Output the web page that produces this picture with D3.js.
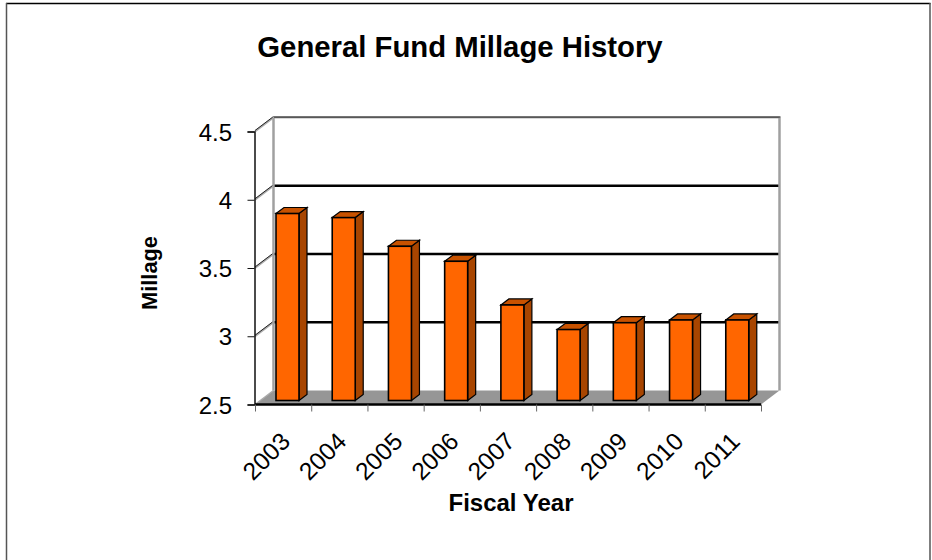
<!DOCTYPE html>
<html><head><meta charset="utf-8">
<script src="https://cdnjs.cloudflare.com/ajax/libs/d3/7.8.5/d3.min.js"></script>
<style>html,body{margin:0;padding:0;background:#fff}svg{display:block}text{font-family:"Liberation Sans",Arial,sans-serif;fill:#000}</style>
</head><body><svg id="c" width="932" height="560"></svg>
<script>
const years=["2003","2004","2005","2006","2007","2008","2009","2010","2011"];
const millage=[3.87,3.84,3.63,3.52,3.2,3.02,3.07,3.09,3.09];
const yTicks=[2.5,3,3.5,4,4.5];
const yLabels=["2.5","3","3.5","4","4.5"];
const svg=d3.select("#c");
svg.append("line").attr("x1",6).attr("x2",930.5).attr("y1",3.5).attr("y2",3.5).attr("stroke","#000").attr("stroke-width",1.5);
svg.append("line").attr("x1",6.5).attr("x2",6.5).attr("y1",3).attr("y2",560).attr("stroke","#555").attr("stroke-width",1.5);
svg.append("line").attr("x1",930).attr("x2",930).attr("y1",3).attr("y2",560).attr("stroke","#555").attr("stroke-width",1.5);
const dx=18.5,dy=-14;
const x=d3.scaleBand().domain(years).range([255,761]);
const y=d3.scaleLinear().domain([2.5,4.5]).range([404.5,131.5]);
const yBar=d3.scaleLinear().domain([2.5,4.5]).range([400.5,127.5]);
const g=svg.append("g");
const L=x.range()[0],R=x.range()[1];
// floor
g.append("path").attr("d",d3.line()([[L,y(2.5)],[L+dx,y(2.5)+dy],[R+dx,y(2.5)+dy],[R,y(2.5)]])+"Z").attr("fill","#969696");
// gridlines on the back wall and side wall
yTicks.forEach(t=>{
  const yy=y(t);
  if(t>2.5){
    g.append("line").attr("x1",L+dx).attr("x2",R+dx).attr("y1",yy+dy).attr("y2",yy+dy).attr("stroke",t==4.5?"#666":"#000").attr("stroke-width",t==4.5?1.5:2.5);
    g.append("line").attr("x1",L).attr("x2",L+dx).attr("y1",yy).attr("y2",yy+dy).attr("stroke","#aaa").attr("stroke-width",2);
    g.append("line").attr("x1",L).attr("x2",L+dx).attr("y1",yy-1).attr("y2",yy+dy-1).attr("stroke","#222").attr("stroke-width",1);
  }
});
// wall edges
[L+dx,R+dx].forEach(v=>g.append("line").attr("x1",v).attr("x2",v).attr("y1",y(4.5)+dy).attr("y2",y(2.5)+dy).attr("stroke","#a0a0a0").attr("stroke-width",2.5));
g.append("line").attr("x1",L+dx+.5).attr("x2",R+dx+1).attr("y1",y(4.5)+dy-.5).attr("y2",y(4.5)+dy-.5).attr("stroke","#555").attr("stroke-width",1.5);
g.append("line").attr("x1",L).attr("x2",L+dx).attr("y1",y(2.5)).attr("y2",y(2.5)+dy).attr("stroke","#aaa").attr("stroke-width",1.5);
// bars
const bw=23,offset=21,bdx=8,bdy=-6;
const bars=g.selectAll("g.bar").data(years.map((d,i)=>({d,v:millage[i]}))).join("g").attr("class","bar");
const bx=d=>x(d.d)+offset;
bars.append("path").attr("d",d=>{const a=bx(d),t=yBar(d.v),b=yBar(2.5);return `M${a+bw},${t}L${a+bw+bdx},${t+bdy}L${a+bw+bdx},${b+bdy}L${a+bw},${b}Z`}).attr("fill","#a84500").attr("stroke","#000").attr("stroke-width",1.2);
bars.append("path").attr("d",d=>{const a=bx(d),t=yBar(d.v);return `M${a},${t}L${a+bdx},${t+bdy}L${a+bw+bdx},${t+bdy}L${a+bw},${t}Z`}).attr("fill","#c85200").attr("stroke","#000").attr("stroke-width",1.2);
bars.append("rect").attr("x",bx).attr("y",d=>yBar(d.v)).attr("width",bw).attr("height",d=>yBar(2.5)-yBar(d.v)).attr("fill","#ff6600").attr("stroke","#000").attr("stroke-width",1.6);
// front axes
const yAxis=d3.axisLeft(y).tickValues(yTicks).tickSize(7).tickFormat((d,i)=>yLabels[i]);
const ya=svg.append("g").attr("transform",`translate(${L-.5},0)`).call(yAxis);
ya.select(".domain").attr("stroke","#111").attr("stroke-width",1.5);
ya.selectAll("line").attr("stroke","#111").attr("stroke-width",1);
ya.selectAll("text").attr("font-size",24).attr("x",-22.5).attr("dy","0.36em");
const xTickScale=d3.scalePoint().domain(years.concat("end")).range([L,R]);
const xa=svg.append("g").attr("transform",`translate(0,${y(2.5)})`).call(d3.axisBottom(xTickScale).tickSize(7).tickFormat(""));
xa.select(".domain").attr("stroke","#000").attr("stroke-width",2.5).attr("d",`M${L},0H${R}`);
xa.selectAll("line").attr("stroke","#666").attr("stroke-width",1);
svg.append("g").selectAll("text").data(years).join("text")
 .attr("transform",d=>`translate(${x(d)+x.bandwidth()/2-4},${y(2.5)+26}) rotate(-45)`)
 .attr("text-anchor","end").attr("dy","0.72em").attr("font-size",24.5).text(d=>d);
svg.append("text").attr("x",460).attr("y",57).attr("text-anchor","middle").attr("font-size",29.3).attr("font-weight","bold").text("General Fund Millage History");
svg.append("text").attr("x",511).attr("y",511).attr("text-anchor","middle").attr("font-size",24).attr("font-weight","bold").text("Fiscal Year");
svg.append("text").attr("transform","translate(157,273) rotate(-90)").attr("text-anchor","middle").attr("font-size",21.8).attr("font-weight","bold").text("Millage");
</script></body></html>
